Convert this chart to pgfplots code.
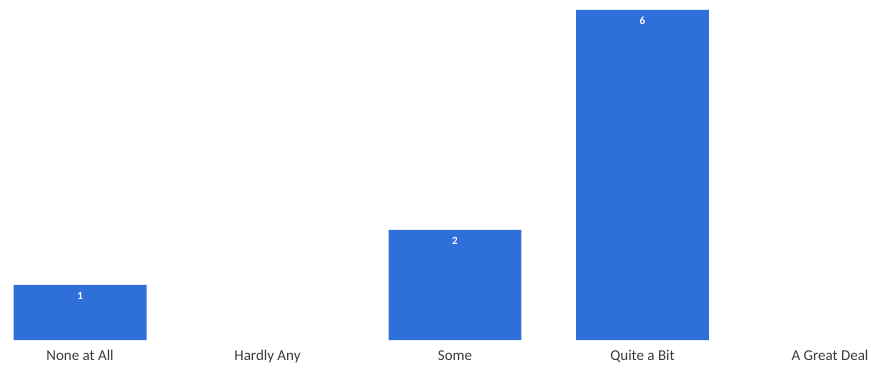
\documentclass[border=0pt]{standalone}
\usepackage{pgfplots}
\pgfplotsset{compat=1.18}
\usepackage{fontspec}
\setmainfont{Carlito}
\definecolor{barblue}{HTML}{2F6FD9}
\definecolor{lbl}{HTML}{3A3A3A}
\begin{document}
\begin{tikzpicture}[x=1pt,y=1pt]
\path[use as bounding box] (0,-30) rectangle (871,340);
\begin{axis}[
  at={(0,0)}, anchor=south west,
  scale only axis,
  width=871pt, height=340pt,
  xmin=-0.427, xmax=4.219,
  ymin=0, ymax=6.18,
  axis lines=none,
  clip=false,
  ybar, bar width=0.709,
  xtick=\empty,
  ytick=\empty,
  /pgf/number format/assume math mode=true,
  nodes near coords,
  nodes near coords align={below},
  every node near coord/.append style={font=\fontsize{11}{13}\selectfont\bfseries, text=white, yshift=-4pt},
]
\addplot[fill=barblue, draw=none] coordinates {(0,1) (2,2) (3,6)};
\end{axis}
\foreach \x/\t in {80/None at All,267.5/Hardly Any,455/Some,642.5/Quite a Bit,830/A Great Deal}
  \node[font=\fontsize{15}{17}\selectfont, text=lbl, anchor=base] at (\x,-20) {\t};
\end{tikzpicture}
\end{document}
